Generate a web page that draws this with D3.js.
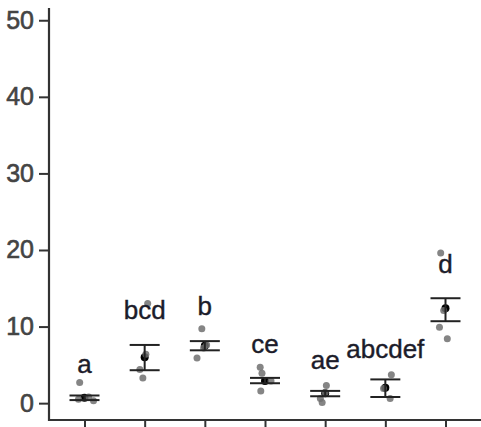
<!DOCTYPE html>
<html>
<head>
<meta charset="utf-8">
<script src="https://cdn.jsdelivr.net/npm/d3@7"></script>
<style>
  html, body { margin: 0; padding: 0; background: #fff; }
  svg { display: block; }
  text { font-family: "Liberation Sans", Arial, sans-serif; }
</style>
</head>
<body>
<svg id="chart" width="481" height="427"></svg>
<script>
// Groups along the x axis
const groups = ["G1", "G2", "G3", "G4", "G5", "G6", "G7"];

// Individual observations per group and their horizontal jitter (in group steps)
const obsValues = [
  [2.7, 0.5, 0.8, 0.3],
  [13.0, 6.4, 4.4, 3.3],
  [9.7, 7.6, 7.2, 5.9],
  [4.7, 3.9, 2.9, 1.6],
  [2.3, 1.4, 0.6, 0.1],
  [3.7, 1.9, 0.6],
  [19.6, 12.1, 9.9, 8.4]
];
const obsJitter = [
  [-0.08, -0.10, 0.07, 0.15],
  [0.05, 0.02, -0.08, -0.03],
  [-0.05, 0.03, -0.02, -0.13],
  [-0.08, -0.05, 0.10, -0.07],
  [0.02, 0.00, -0.08, -0.05],
  [0.10, -0.03, 0.08],
  [-0.08, -0.03, -0.10, 0.03]
];

// Group means with lower / upper error limits
const means = [0.7, 6.0, 7.5, 2.9, 1.3, 2.0, 12.4];
const lower = [0.4, 4.3, 6.9, 2.6, 0.9, 0.8, 10.7];
const upper = [1.0, 7.6, 8.1, 3.3, 1.6, 3.1, 13.7];

// Compact letter display and the value at which each letter group sits
const letters = ["a", "bcd", "b", "ce", "ae", "abcdef", "d"];
const letterY = [4.0, 11.0, 11.5, 6.5, 4.4, 5.9, 17.0];

const yTicks = [0, 10, 20, 30, 40, 50];

const svg = d3.select("#chart");
const W = 481, H = 427;
const axisX = 49, axisY = 420, topY = 8;

const x = d3.scalePoint().domain(groups).range([axisX, W]).padding(0.59);
const step = x.step();
const y = d3.scaleLinear().domain([-2.2, 51.6]).range([axisY, topY]);

// Axes
const yAxis = svg.append("g")
  .attr("transform", `translate(${axisX},0)`)
  .call(d3.axisLeft(y).tickValues(yTicks).tickSize(10).tickPadding(5));
const xAxis = svg.append("g")
  .attr("transform", `translate(0,${axisY})`)
  .call(d3.axisBottom(x).tickSize(8).tickFormat(() => ""));

[yAxis, xAxis].forEach(g => {
  g.select(".domain").remove();
  g.selectAll(".tick line").attr("stroke", "#333").attr("stroke-width", 2);
});
yAxis.selectAll(".tick text")
  .attr("fill", "#444")
  .attr("stroke", "#444")
  .attr("stroke-width", 0.6)
  .style("font-size", "25px");

svg.append("line")
  .attr("x1", axisX).attr("x2", axisX)
  .attr("y1", topY).attr("y2", axisY + 1)
  .attr("stroke", "#333").attr("stroke-width", 2.2);
svg.append("line")
  .attr("x1", axisX - 1).attr("x2", W)
  .attr("y1", axisY).attr("y2", axisY)
  .attr("stroke", "#333").attr("stroke-width", 2.2);

// Means (drawn under the observations)
svg.append("g").selectAll("circle")
  .data(means).join("circle")
  .attr("cx", (d, i) => x(groups[i]))
  .attr("cy", d => y(d))
  .attr("r", 4)
  .attr("fill", "#000");

// Observations
const pts = [];
obsValues.forEach((vals, i) => vals.forEach((v, j) => pts.push({ g: groups[i], v, dx: obsJitter[i][j] })));
svg.append("g").selectAll("circle")
  .data(pts).join("circle")
  .attr("cx", d => x(d.g) + d.dx * step)
  .attr("cy", d => y(d.v))
  .attr("r", 3.5)
  .attr("fill", "#707070")
  .attr("opacity", 0.85);

// Error bars
const capHalf = 15;
const eb = svg.append("g").attr("stroke", "#222").attr("stroke-width", 2);
groups.forEach((g, i) => {
  const cx = x(g);
  eb.append("line").attr("x1", cx).attr("x2", cx).attr("y1", y(lower[i])).attr("y2", y(upper[i]));
  eb.append("line").attr("x1", cx - capHalf).attr("x2", cx + capHalf).attr("y1", y(lower[i])).attr("y2", y(lower[i]));
  eb.append("line").attr("x1", cx - capHalf).attr("x2", cx + capHalf).attr("y1", y(upper[i])).attr("y2", y(upper[i]));
});

// Letters
svg.append("g").selectAll("text")
  .data(letters).join("text")
  .attr("x", (d, i) => x(groups[i]))
  .attr("y", (d, i) => y(letterY[i]))
  .attr("text-anchor", "middle")
  .attr("fill", "#1c1c2a")
  .attr("stroke", "#1c1c2a")
  .attr("stroke-width", 0.4)
  .style("font-size", "26px")
  .text(d => d);
</script>
</body>
</html>
